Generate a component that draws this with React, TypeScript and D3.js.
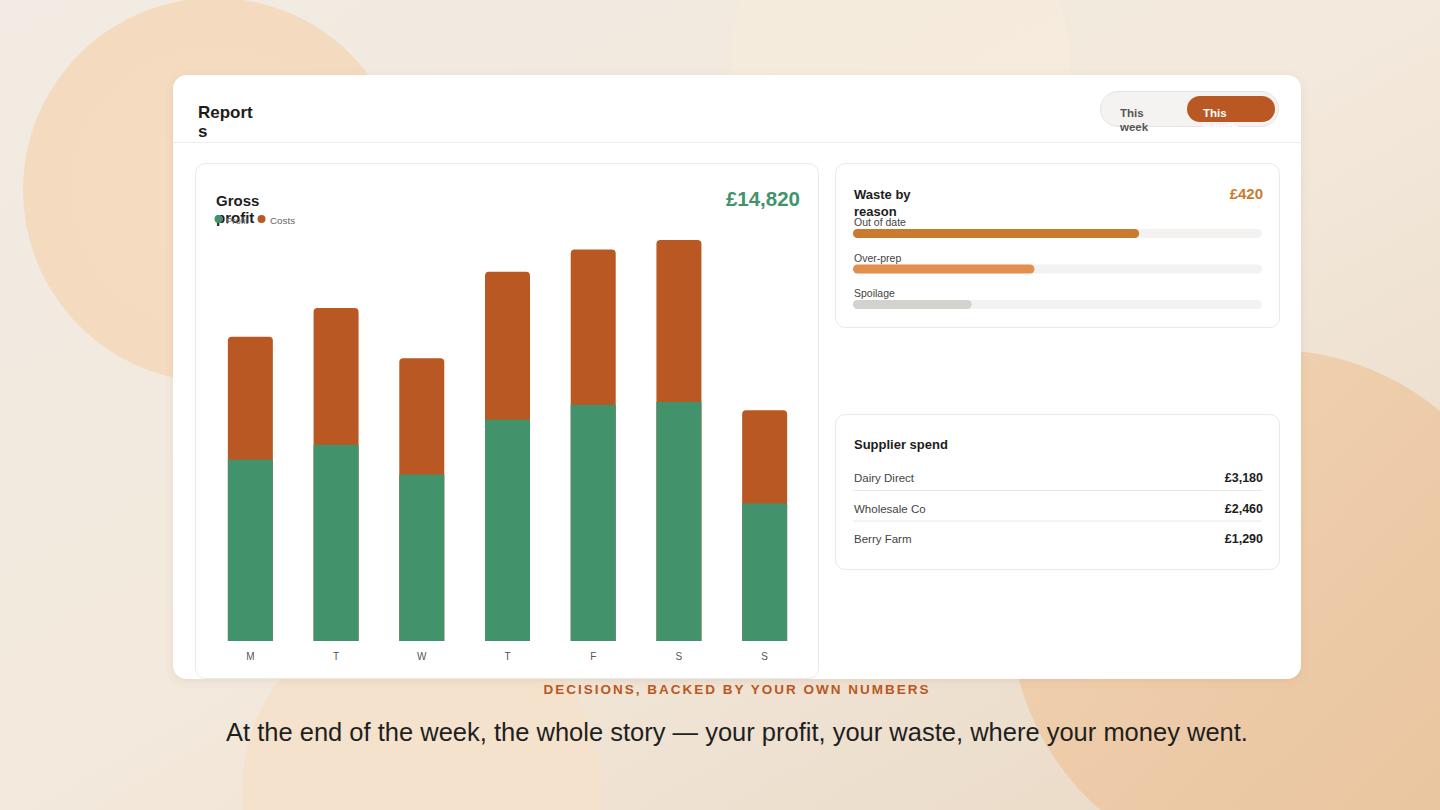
import React from "react";
import * as d3 from "d3";

const days = ["M", "T", "W", "T", "F", "S", "S"];
const profit = [1950, 2110, 1790, 2380, 2540, 2570, 1480];
const costs = [1320, 1470, 1250, 1590, 1670, 1740, 1000];
const wasteReasons = ["Out of date", "Over-prep", "Spoilage"];
const wasteValues = [205, 130, 85];
const wasteColors = ["#c97a2e", "#e38d4f", "#d4d2cf"];
const suppliers = ["Dairy Direct", "Wholesale Co", "Berry Farm"];
const supplierSpend = ["£3,180", "£2,460", "£1,290"];

const FONT = "'Liberation Sans', Arial, Helvetica, sans-serif";
const GREEN = "#42936b";
const ORANGE = "#b95822";

export default function App() {
  const idx = days.map((_, i) => i);
  const totals = profit.map((p, i) => p + costs[i]);
  const x = d3
    .scaleBand<number>()
    .domain(idx)
    .range([207.5, 807.5])
    .paddingInner(0.475)
    .paddingOuter(0.2375);
  const y = d3.scaleLinear().domain([0, (d3.max(totals) as number) * 1.1]).range([641, 200]);
  const wx = d3.scaleLinear().domain([0, 293]).range([0, 409]);
  const total = d3.sum(profit);
  const fmt = (v: number) => "£" + d3.format(",")(v);

  const roundTop = (x0: number, y0: number, w: number, h: number, r: number) =>
    `M${x0},${y0 + h}V${y0 + r}Q${x0},${y0} ${x0 + r},${y0}H${x0 + w - r}Q${x0 + w},${y0} ${x0 + w},${y0 + r}V${y0 + h}Z`;

  return (
    <svg
      width={1440}
      height={810}
      style={{ position: "absolute", left: 0, top: 0, fontFamily: FONT }}
    >
      <defs>
        <linearGradient id="bg" x1="0" y1="0" x2="1" y2="1">
          <stop offset="0" stopColor="#f1ebe3" />
          <stop offset="0.5" stopColor="#f3e9dc" />
          <stop offset="1" stopColor="#e9d8c4" />
        </linearGradient>
        <radialGradient id="c1" cx="0.5" cy="0.5" r="0.5">
          <stop offset="0" stopColor="#f6dcc0" />
          <stop offset="1" stopColor="#f4dbc0" />
        </radialGradient>
        <linearGradient id="c2" x1="0" y1="0" x2="1" y2="1">
          <stop offset="0" stopColor="#f2d4b4" />
          <stop offset="1" stopColor="#e8c29c" />
        </linearGradient>
        <filter id="sh" x="-5%" y="-5%" width="110%" height="115%">
          <feDropShadow dx="0" dy="2" stdDeviation="4" floodColor="#8a6a4a" floodOpacity="0.12" />
        </filter>
      </defs>
      <rect width={1440} height={810} fill="url(#bg)" />
      <circle cx={900} cy={60} r={170} fill="#f7ebdc" opacity={0.7} />
      <circle cx={215} cy={190} r={192} fill="url(#c1)" />
      <circle cx={1272} cy={612} r={262} fill="url(#c2)" />
      <circle cx={422} cy={790} r={180} fill="#f4e2cd" />

      {/* main card */}
      <rect x={173} y={75} width={1128} height={604} rx={14} fill="#ffffff" filter="url(#sh)" />
      <line x1={173} x2={1301} y1={142.5} y2={142.5} stroke="#ececec" />
      <text x={198} y={118} fontSize={17} fontWeight={700} fill="#1d1d1d">Report</text>
      <text x={198} y={137} fontSize={17} fontWeight={700} fill="#1d1d1d">s</text>

      {/* toggle */}
      <rect x={1100.5} y={91.5} width={178} height={35} rx={17.5} fill="#f4f3f1" stroke="#e6e4e0" />
      <rect x={1187} y={96} width={88} height={26} rx={13} fill={ORANGE} />
      <text x={1120} y={117} fontSize={11.5} fontWeight={700} fill="#555">This</text>
      <text x={1120} y={131} fontSize={11.5} fontWeight={700} fill="#555">week</text>
      <text x={1203} y={117} fontSize={11.5} fontWeight={700} fill="#ffffff">This</text>
      <text x={1203} y={131} fontSize={11.5} fontWeight={700} fill="#ffffff">month</text>

      {/* chart panel */}
      <rect x={195.5} y={163.5} width={623} height={515} rx={10} fill="#fff" stroke="#e9e9e9" />
      <text x={216} y={206} fontSize={15} fontWeight={700} fill="#1d1d1d">Gross</text>
      <text x={216} y={223} fontSize={15} fontWeight={700} fill="#1d1d1d">profit</text>
      <text x={800} y={206} fontSize={20.5} fontWeight={700} fill={GREEN} textAnchor="end">
        {fmt(total)}
      </text>
      <circle cx={218.5} cy={219} r={4} fill={GREEN} />
      <text x={226} y={223.5} fontSize={9.5} fill="#666">Profit</text>
      <circle cx={261.5} cy={219} r={4} fill={ORANGE} />
      <text x={270} y={223.5} fontSize={9.8} fill="#666">Costs</text>

      {idx.map((i) => {
        const bx = x(i) as number;
        const bw = x.bandwidth();
        const yt = y(totals[i]);
        const yp = y(profit[i]);
        return (
          <g key={i}>
            <path d={roundTop(bx, yt, bw, y(0) - yt, 4)} fill={ORANGE} />
            <rect x={bx} y={yp} width={bw} height={y(0) - yp} fill={GREEN} />
            <text
              x={bx + bw / 2}
              y={660}
              fontSize={10}
              fill="#555"
              textAnchor="middle"
            >
              {days[i]}
            </text>
          </g>
        );
      })}

      {/* waste panel */}
      <rect x={835.5} y={163.5} width={444} height={164} rx={10} fill="#fff" stroke="#e9e9e9" />
      <text x={854} y={199} fontSize={13} fontWeight={700} fill="#1d1d1d">Waste by</text>
      <text x={854} y={216} fontSize={13} fontWeight={700} fill="#1d1d1d">reason</text>
      <text x={1263} y={199} fontSize={15} fontWeight={700} fill="#cc7a30" textAnchor="end">
        {fmt(d3.sum(wasteValues))}
      </text>
      {wasteReasons.map((r, i) => {
        const top = 229 + i * 35.5;
        return (
          <g key={r}>
            <text x={854} y={top - 3} fontSize={10.5} fill="#444">{r}</text>
            <rect x={853} y={top} width={409} height={9} rx={4.5} fill="#f3f2f0" />
            <rect x={853} y={top} width={wx(wasteValues[i])} height={9} rx={4.5} fill={wasteColors[i]} />
          </g>
        );
      })}

      {/* supplier panel */}
      <rect x={835.5} y={414.5} width={444} height={155} rx={10} fill="#fff" stroke="#e9e9e9" />
      <text x={854} y={449} fontSize={13} fontWeight={700} fill="#1d1d1d">Supplier spend</text>
      {suppliers.map((s, i) => {
        const base = 482 + i * 30.5;
        return (
          <g key={s}>
            <text x={854} y={base} fontSize={11.5} fill="#444">{s}</text>
            <text x={1263} y={base} fontSize={12.5} fontWeight={700} fill="#1d1d1d" textAnchor="end">
              {supplierSpend[i]}
            </text>
            {i < suppliers.length - 1 && (
              <line x1={853} x2={1262} y1={base + 8.5} y2={base + 8.5} stroke="#e8e8e8" />
            )}
          </g>
        );
      })}

      {/* captions */}
      <text
        x={737}
        y={694}
        fontSize={13.5}
        fontWeight={700}
        fill={ORANGE}
        textAnchor="middle"
        letterSpacing={2}
      >
        DECISIONS, BACKED BY YOUR OWN NUMBERS
      </text>
      <text x={737} y={741} fontSize={25.5} fill="#1f1f1f" textAnchor="middle">
        At the end of the week, the whole story — your profit, your waste, where your money went.
      </text>
    </svg>
  );
}
